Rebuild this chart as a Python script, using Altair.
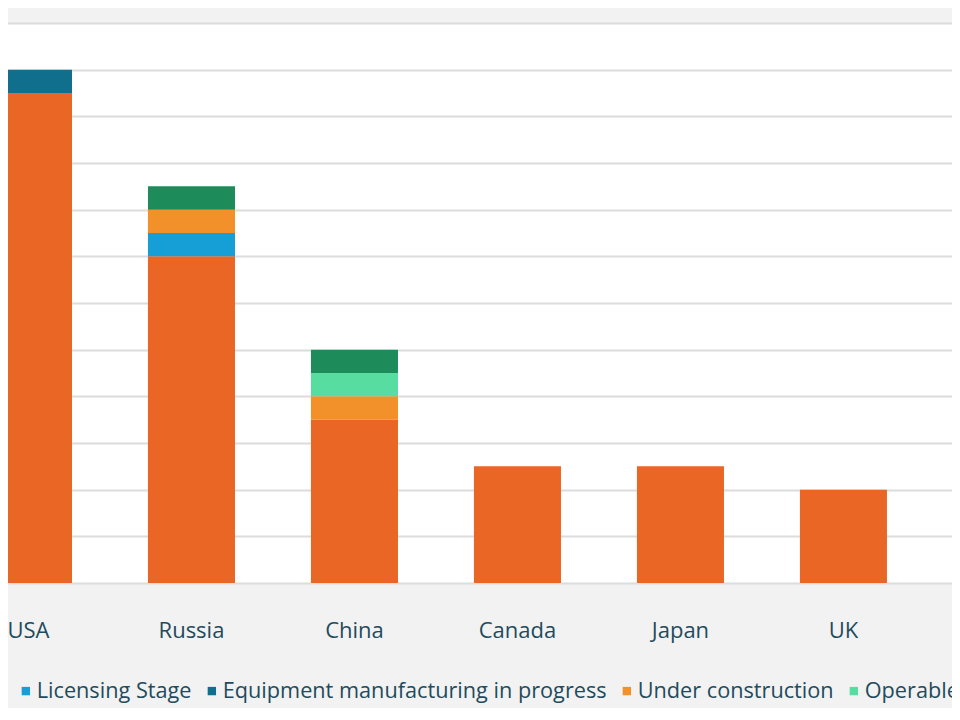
import altair as alt
import pandas as pd

countries = ["USA", "Russia", "China", "Canada", "Japan", "UK"]
stages = ["Concept / Idea", "Licensing Stage", "Equipment manufacturing in progress",
          "Under construction", "Operable", "In operation"]
colors = ["#EA6624", "#169FD6", "#0F6F8C", "#F2902A", "#58DDA0", "#1E8C5A"]

concept = [21, 14, 7, 5, 5, 4]
licensing = [0, 1, 0, 0, 0, 0]
equipment = [1, 0, 0, 0, 0, 0]
under_construction = [0, 1, 1, 0, 0, 0]
operable = [0, 0, 1, 0, 0, 0]
in_operation = [0, 1, 1, 0, 0, 0]

series = [concept, licensing, equipment, under_construction, operable, in_operation]
rows = []
for si, (stage, vals) in enumerate(zip(stages, series)):
    for c, v in zip(countries, vals):
        if v > 0:
            rows.append({"country": c, "stage": stage, "order": si, "value": v})
df = pd.DataFrame(rows)

FONT = "Open Sans"
TXT = "#1F4B5C"

chart = alt.Chart(df).mark_bar().encode(
    x=alt.X("country:N", sort=countries,
            scale=alt.Scale(paddingInner=0.466, paddingOuter=0.3405, align=0.342),
            axis=alt.Axis(title=None, labelAngle=0, domain=False, ticks=False, tickSize=0,
                          labelPadding=37, labelFontSize=22, labelFont=FONT,
                          labelColor=TXT, grid=False)),
    y=alt.Y("value:Q", stack="zero",
            scale=alt.Scale(domain=[0, 24], nice=False),
            axis=alt.Axis(title=None, labels=False, ticks=False, domain=False,
                          values=list(range(0, 25, 2)), grid=True,
                          gridColor="#DCDCDC", gridWidth=2, minExtent=0, maxExtent=0)),
    color=alt.Color("stage:N", sort=stages,
                    scale=alt.Scale(domain=stages, range=colors),
                    legend=alt.Legend(title=None, orient="none", direction="horizontal",
                                      legendX=-110, legendY=657,
                                      symbolType="square", symbolSize=70,
                                      symbolStrokeWidth=0, labelOffset=0,
                                      labelFontSize=21.7, labelFont=FONT, labelColor=TXT,
                                      labelLimit=1000, columnPadding=9)),
    order=alt.Order("order:Q", sort="ascending"),
).properties(
    width=1013, height=560,
    background="#F2F2F2",
    padding={"left": -61, "top": 15, "right": -8, "bottom": 125},
    autosize=alt.AutoSizeParams(type="none"),
).configure_view(
    fill="white", stroke=None
)

chart.save("out.html", embed_options={"renderer": "svg", "actions": False})
